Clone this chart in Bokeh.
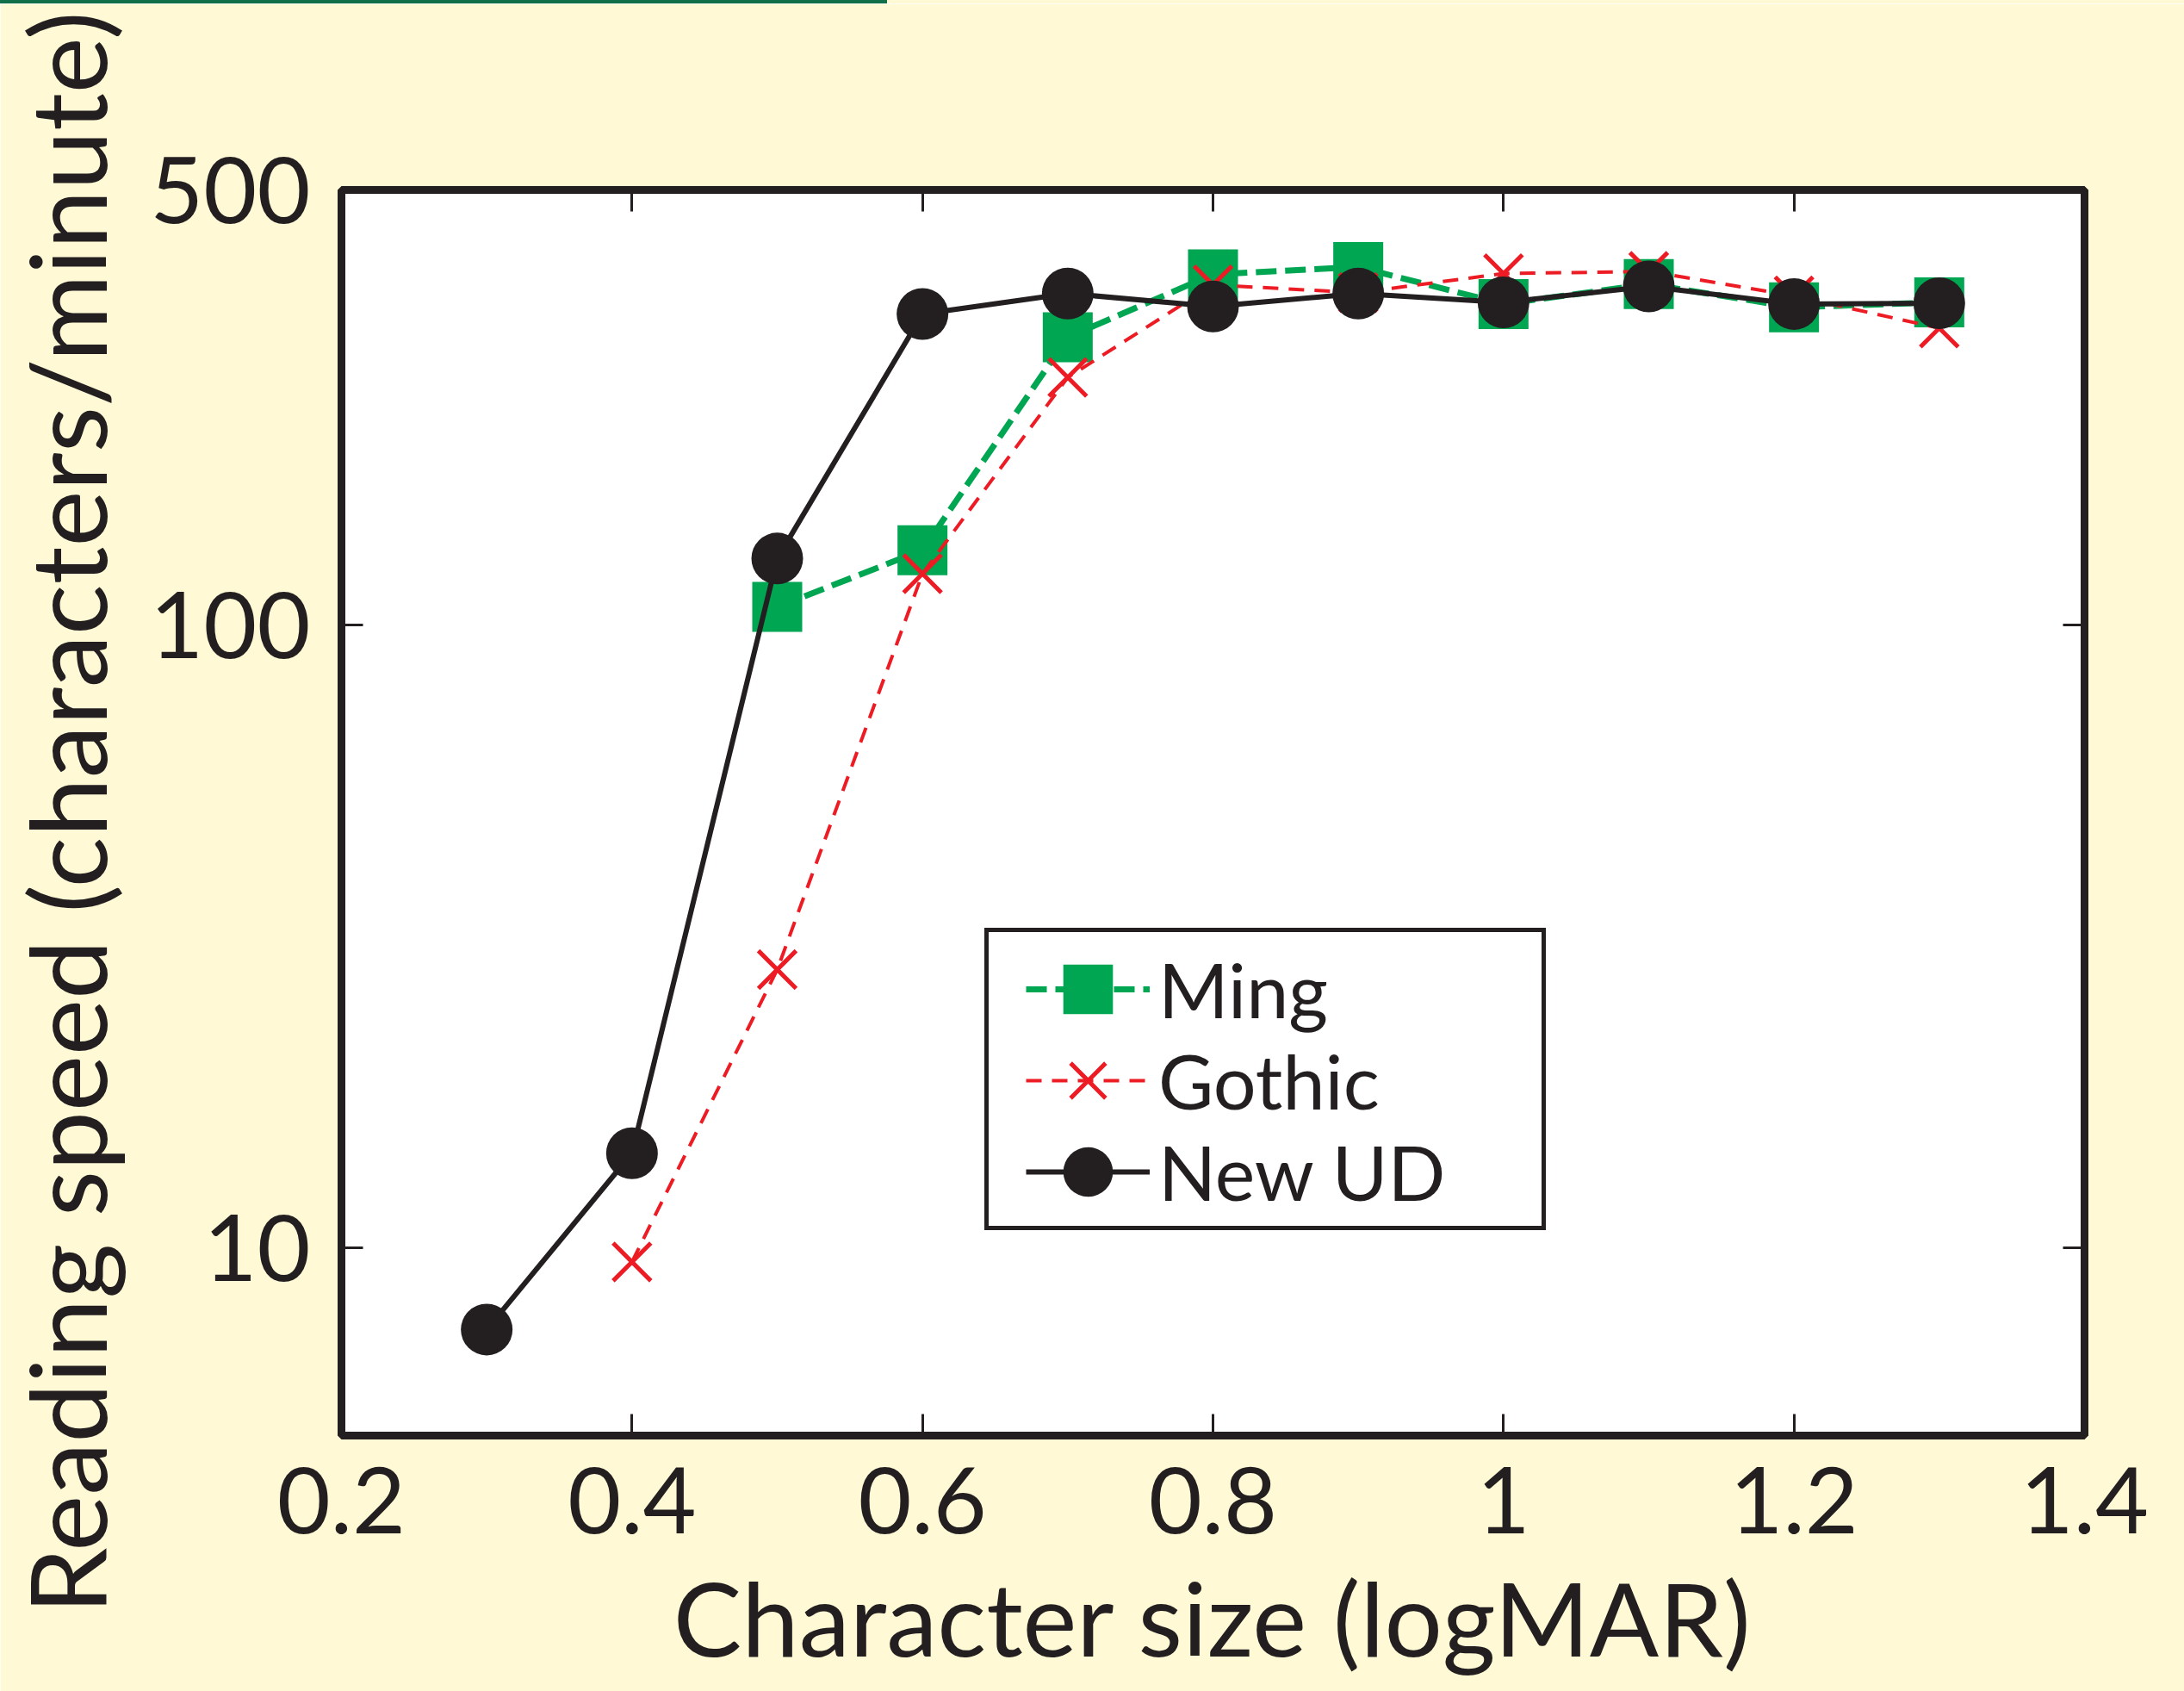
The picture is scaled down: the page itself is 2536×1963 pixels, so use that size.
from bokeh.plotting import figure
from bokeh.layouts import column
from bokeh.models import (FixedTicker, LinearAxis, LogAxis, Legend, LegendItem,
                          CustomJSTickFormatter, Range1d, Div)
from bokeh.embed import file_html
from bokeh.resources import INLINE

# ---- data ----
size_ming = [0.5, 0.6, 0.7, 0.8, 0.9, 1.0, 1.1, 1.2, 1.3]
speed_ming = [107, 132, 290, 366, 376, 328, 353, 324, 330]

size_gothic = [0.4, 0.5, 0.6, 0.7, 0.8, 0.9, 1.0, 1.1, 1.2, 1.3]
speed_gothic = [9.5, 28, 121, 250, 352, 342, 367, 370, 338, 300]

size_newud = [0.3, 0.4, 0.5, 0.6, 0.7, 0.8, 0.9, 1.0, 1.1, 1.2, 1.3]
speed_newud = [7.4, 14.2, 128, 316, 341, 325, 341, 330, 350, 328, 329]

x_ticks = [0.2, 0.4, 0.6, 0.8, 1.0, 1.2, 1.4]
x_tick_labels = ["0.2", "0.4", "0.6", "0.8", "1", "1.2", "1.4"]
y_ticks = [10, 100, 500]
y_tick_labels = ["10", "100", "500"]

series_names = ["Ming", "Gothic", "New UD"]

INK = "#231F20"
GREEN = "#00A651"
RED = "#ED1C24"
CREAM = "#FFFAD5"
RULE = "#11704A"
FONT = "Lato"

p = figure(width=2536, height=1959, output_backend="svg", toolbar_location=None,
           x_range=Range1d(0.2, 1.4), y_range=Range1d(5, 500), y_axis_type="log",
           x_axis_label="Character size (logMAR)",
           y_axis_label="Reading speed (characters/minute)",
           min_border_left=393, min_border_right=116,
           min_border_top=216, min_border_bottom=297)
p.background_fill_color = "white"
p.border_fill_color = CREAM
p.outline_line_color = INK
p.outline_line_width = 9
p.grid.visible = False

bottom_ax = p.below[0]
left_ax = p.left[0]
bottom_ax.ticker = FixedTicker(ticks=x_ticks)
bottom_ax.major_label_overrides = dict(zip(x_ticks, x_tick_labels))
left_ax.ticker = FixedTicker(ticks=y_ticks)
left_ax.major_label_overrides = dict(zip(y_ticks, y_tick_labels))

top_ax = LinearAxis(ticker=FixedTicker(ticks=x_ticks),
                    formatter=CustomJSTickFormatter(code="return ''"))
right_ax = LogAxis(ticker=FixedTicker(ticks=y_ticks),
                   formatter=CustomJSTickFormatter(code="return ''"))
p.add_layout(top_ax, "above")
p.add_layout(right_ax, "right")

for ax in [bottom_ax, left_ax, top_ax, right_ax]:
    ax.axis_line_color = None
    ax.major_tick_in = 25
    ax.major_tick_out = 0
    ax.major_tick_line_width = 3
    ax.major_tick_line_color = INK
    ax.minor_tick_line_color = None
    ax.major_label_text_font = FONT
    ax.major_label_text_font_size = "107px"
    ax.major_label_text_color = INK
    ax.axis_label_text_font = FONT
    ax.axis_label_text_font_size = "123px"
    ax.axis_label_text_font_style = "normal"
    ax.axis_label_text_color = INK

bottom_ax.axis_label_text_font_size = "119px"
bottom_ax.major_label_standoff = 36
bottom_ax.axis_label_standoff = 23
left_ax.major_label_standoff = 36
left_ax.axis_label_standoff = 21
top_ax.major_label_standoff = 0
right_ax.major_label_standoff = 0

# ---- series ----
r_ming_line = p.line(size_ming, speed_ming, line_color=GREEN, line_width=7, line_dash="24 10")
r_ming_pts = p.scatter(size_ming, speed_ming, marker="square", size=58,
                       fill_color=GREEN, line_color=None)
r_goth_line = p.line(size_gothic, speed_gothic, line_color=RED, line_width=4, line_dash="18 12")
r_goth_pts = p.scatter(size_gothic, speed_gothic, marker="x", size=62,
                       line_color=RED, line_width=5)
r_ud_line = p.line(size_newud, speed_newud, line_color=INK, line_width=6)
r_ud_pts = p.scatter(size_newud, speed_newud, marker="circle", size=60,
                     fill_color=INK, line_color=None)

# legend frame (white box with border)
legend_box = Legend(items=[LegendItem(label="", renderers=[r_ud_line])],
                    location=(747, 238), padding=0, margin=0, spacing=0,
                    glyph_width=0, glyph_height=341, label_standoff=0, label_width=642,
                    label_text_font_size="10px",
                    border_line_color=INK, border_line_width=5, border_line_alpha=1,
                    background_fill_color="white", background_fill_alpha=1)
p.add_layout(legend_box)

# one legend per row so the markers keep their size at a tight row pitch
row_renderers = [[r_ming_line, r_ming_pts], [r_goth_line, r_goth_pts], [r_ud_line, r_ud_pts]]
row_offsets = [443, 337, 231]
for name, rends, vy in zip(series_names, row_renderers, row_offsets):
    lg = Legend(items=[LegendItem(label=name, renderers=rends)],
                location=(795, vy), padding=0, margin=0, spacing=0,
                glyph_width=144, glyph_height=150, label_standoff=10,
                label_text_font=FONT, label_text_font_size="88px", label_text_color=INK,
                border_line_color=None, background_fill_alpha=0)
    p.add_layout(lg)

rule = Div(width=2536, height=4, margin=0,
           styles={"background": f"linear-gradient(to right, {RULE} 0px, {RULE} 1030px, {CREAM} 1030px)"})
page = column(rule, p, spacing=0)

open("out.html", "w").write(file_html(page, INLINE))
